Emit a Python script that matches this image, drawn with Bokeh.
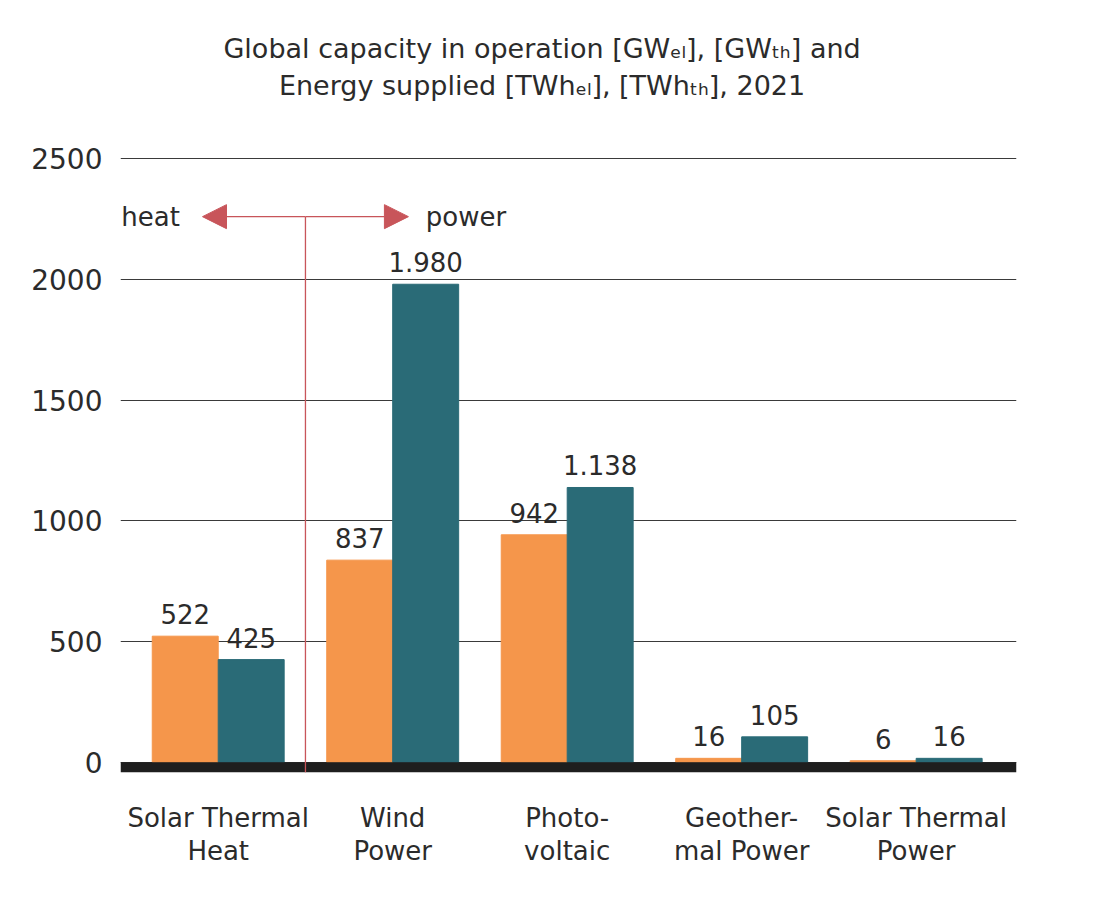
from bokeh.plotting import figure
from bokeh.models import (Range1d, FixedTicker, BoxAnnotation, Arrow, NormalHead,
                          Label, ColumnDataSource, LabelSet)
from bokeh.core.properties import value
from bokeh.embed import file_html
from bokeh.resources import INLINE

categories = ["Solar Thermal\nHeat", "Wind\nPower", "Photo-\nvoltaic",
              "Geother-\nmal Power", "Solar Thermal\nPower"]
capacity = [522, 837, 942, 16, 6]          # orange: GW
energy = [425, 1980, 1138, 105, 16]        # teal: TWh
y_ticks = [0, 500, 1000, 1500, 2000, 2500]
title_lines = ["Global capacity in operation [GWₑₗ], [GWₜₕ] and",
               "Energy supplied [TWhₑₗ], [TWhₜₕ], 2021"]

ORANGE = "#F5964B"
TEAL = "#2A6B77"
RED = "#C8555A"
TXT = "#2b2b2b"
FONT = "DejaVu Sans"

def fmt(v):
    return f"{v:,}".replace(",", ".")

idx = list(range(len(categories)))
bw = 0.378
src_o = ColumnDataSource(dict(x=[i - bw / 2 for i in idx], top=capacity,
                              lab=[fmt(v) for v in capacity]))
src_t = ColumnDataSource(dict(x=[i + bw / 2 for i in idx], top=energy,
                              lab=[fmt(v) for v in energy]))

p = figure(width=1104, height=900, output_backend="svg", toolbar_location=None,
           x_range=Range1d(-0.56, 4.575), y_range=Range1d(-42.7, 3114),
           min_border_left=120, min_border_right=88, min_border_top=10,
           min_border_bottom=128)
p.outline_line_color = None
p.background_fill_color = "white"
p.border_fill_color = "white"

# title as two centred lines (drawn inside the extended frame)
for line, yv in zip(title_lines, [2957, 2805]):
    p.add_layout(Label(x=1.856, y=yv, text=line, text_align="center",
                       text_baseline="alphabetic", text_font=FONT,
                       text_font_size="27px", text_color=TXT))

p.vbar(x="x", top="top", bottom=0, width=bw, source=src_o, color=ORANGE)
p.vbar(x="x", top="top", bottom=0, width=bw, source=src_t, color=TEAL)

for src in (src_o, src_t):
    p.add_layout(LabelSet(x="x", y="top", text="lab", source=src, y_offset=12,
                          text_align="center", text_baseline="alphabetic",
                          text_font=value(FONT), text_font_size=value("26px"),
                          text_color=TXT))

# grid
p.xgrid.grid_line_color = None
p.ygrid.ticker = FixedTicker(ticks=y_ticks)
p.ygrid.grid_line_color = "#3a3a3a"
p.ygrid.grid_line_width = 1

# y axis
p.yaxis.ticker = FixedTicker(ticks=y_ticks)
p.yaxis.axis_line_color = None
p.yaxis.major_tick_line_color = None
p.yaxis.minor_tick_line_color = None
p.yaxis.major_label_standoff = 12
p.yaxis.major_label_text_font = FONT
p.yaxis.major_label_text_font_size = "28px"
p.yaxis.major_label_text_color = TXT

# x axis
p.xaxis.ticker = FixedTicker(ticks=idx)
p.xaxis.major_label_overrides = {i: c for i, c in zip(idx, categories)}
p.xaxis.axis_line_color = None
p.xaxis.major_tick_line_color = None
p.xaxis.minor_tick_line_color = None
p.xaxis.major_label_standoff = 24
p.xaxis.major_label_text_font = FONT
p.xaxis.major_label_text_font_size = "26px"
p.xaxis.major_label_text_color = TXT
p.xaxis.major_label_text_line_height = 1.1

# baseline
p.add_layout(BoxAnnotation(top=0, fill_color="#1e1e1e", fill_alpha=1, line_color=None))

# heat / power divider
div_x = 0.5
arrow_y = 2260
p.add_layout(Arrow(x_start=div_x, y_start=arrow_y, x_end=div_x, y_end=-42.7,
                   start=None, end=None, line_color=RED, line_width=1.3))
p.add_layout(Arrow(x_start=div_x, y_start=arrow_y, x_end=-0.09, y_end=arrow_y,
                   start=None, end=NormalHead(size=24, fill_color=RED, line_color=RED),
                   line_color=RED, line_width=1.3))
p.add_layout(Arrow(x_start=div_x, y_start=arrow_y, x_end=1.09, y_end=arrow_y,
                   start=None, end=NormalHead(size=24, fill_color=RED, line_color=RED),
                   line_color=RED, line_width=1.3))
p.add_layout(Label(x=-0.555, y=arrow_y, text="heat", text_align="left",
                   text_baseline="middle", text_font=FONT, text_font_size="26px",
                   text_color=TXT))
p.add_layout(Label(x=1.19, y=arrow_y, text="power", text_align="left",
                   text_baseline="middle", text_font=FONT, text_font_size="26px",
                   text_color=TXT))

open("out.html", "w").write(file_html(p, INLINE))
